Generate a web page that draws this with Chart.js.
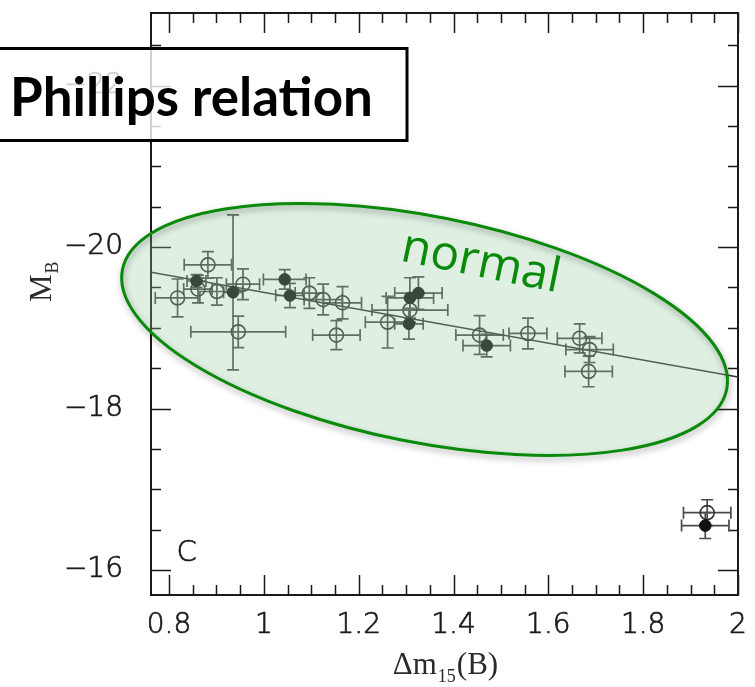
<!DOCTYPE html>
<html>
<head>
<meta charset="utf-8">
<title>Phillips relation</title>
<script src="https://cdn.jsdelivr.net/npm/chart.js@4.4.1/dist/chart.umd.min.js"></script>
<style>
  html, body { margin: 0; padding: 0; background: #fff; }
  #chart { display: block; }
</style>
</head>
<body>
<canvas id="chart" width="755" height="687"></canvas>
<script>
(function () {
  "use strict";

  // open symbols: decline rate dm15(B), peak magnitude M_B, errors
  var openX = [0.882, 0.818, 0.861, 0.901, 0.956, 0.946, 1.096, 1.125, 1.166, 1.153, 1.261, 1.308, 1.455, 1.557, 1.666, 1.687, 1.685, 1.935];
  var openY = [-19.78, -19.37, -19.48, -19.45, -19.54, -18.95, -19.43, -19.35, -19.31, -18.91, -19.07, -19.22, -18.91, -18.93, -18.87, -18.73, -18.46, -16.71];
  var openXErr = [0.05, 0.047, 0.03, 0.04, 0.035, 0.1, 0.03, 0.04, 0.04, 0.05, 0.047, 0.08, 0.05, 0.04, 0.047, 0.05, 0.05, 0.05];
  var openYErr = [0.165, 0.235, 0.17, 0.17, 0.19, 0.195, 0.19, 0.19, 0.2, 0.18, 0.32, 0.15, 0.24, 0.19, 0.18, 0.16, 0.19, 0.16];

  // filled symbols
  var filledX = [0.858, 0.935, 1.044, 1.055, 1.306, 1.308, 1.326, 1.47, 1.931];
  var filledY = [-19.58, -19.44, -19.6, -19.4, -19.05, -19.37, -19.43, -18.78, -16.55];
  var filledXErr = [0.02, 0.02, 0.045, 0.03, 0.03, 0.05, 0.05, 0.05, 0.05];
  var filledYErr = [0.08, 0.96, 0.12, 0.15, 0.19, 0.25, 0.2, 0.14, 0.16];

  // linear fit drawn across the panel
  var fitX = [0.762, 2.0];
  var fitY = [-19.69, -18.39];

  var xTicks = [0.8, 1, 1.2, 1.4, 1.6, 1.8, 2];
  var yTicks = [-22, -20, -18, -16];

  var INK = "#1a1a1a";
  var BAR = "#4a4a4a";
  var GREEN = "#0a8a0a";
  var TICK_FONT = { family: "'DejaVu Sans', sans-serif", size: 28, weight: "200" };
  var SERIF = "'Liberation Serif', 'DejaVu Serif', serif";

  function points(xs, ys) {
    return xs.map(function (x, i) { return { x: x, y: ys[i] }; });
  }

  function isMajor(v, list) {
    return list.some(function (t) { return Math.abs(t - v) < 1e-6; });
  }

  function noPadding(axis) {
    axis.paddingTop = 0;
    axis.paddingBottom = 0;
    axis.paddingLeft = 0;
    axis.paddingRight = 0;
  }

  function drawFrame(chart) {
    var ctx = chart.ctx, a = chart.chartArea;
    var xs = chart.scales.x, ys = chart.scales.y;
    var v, p, len;
    ctx.save();
    ctx.strokeStyle = INK;
    ctx.lineWidth = 1.5;
    ctx.beginPath();
    for (v = Math.ceil(xs.min / 0.05) * 0.05; v <= xs.max + 1e-6; v += 0.05) {
      p = Math.round(xs.getPixelForValue(v)) + 0.5;
      len = isMajor(v, xTicks) ? 20 : 10;
      ctx.moveTo(p, a.bottom); ctx.lineTo(p, a.bottom - len);
      ctx.moveTo(p, a.top); ctx.lineTo(p, a.top + len);
    }
    for (v = Math.ceil(ys.min / 0.5) * 0.5; v <= ys.max + 1e-6; v += 0.5) {
      p = Math.round(ys.getPixelForValue(v)) + 0.5;
      len = isMajor(v, yTicks) ? 20 : 10;
      ctx.moveTo(a.left, p); ctx.lineTo(a.left + len, p);
      ctx.moveTo(a.right, p); ctx.lineTo(a.right - len, p);
    }
    ctx.stroke();
    ctx.lineWidth = 2;
    ctx.strokeRect(a.left, a.top, a.right - a.left, a.bottom - a.top);
    ctx.restore();
  }

  function drawErrorBars(chart, xArr, yArr, exArr, eyArr) {
    var ctx = chart.ctx, xs = chart.scales.x, ys = chart.scales.y;
    var cap = 6;
    ctx.save();
    ctx.strokeStyle = BAR;
    ctx.lineWidth = 1.7;
    ctx.beginPath();
    xArr.forEach(function (x, i) {
      var y = yArr[i];
      var px = xs.getPixelForValue(x), py = ys.getPixelForValue(y);
      var x0 = xs.getPixelForValue(x - exArr[i]), x1 = xs.getPixelForValue(x + exArr[i]);
      var y0 = ys.getPixelForValue(y - eyArr[i]), y1 = ys.getPixelForValue(y + eyArr[i]);
      ctx.moveTo(x0, py); ctx.lineTo(x1, py);
      ctx.moveTo(x0, py - cap); ctx.lineTo(x0, py + cap);
      ctx.moveTo(x1, py - cap); ctx.lineTo(x1, py + cap);
      ctx.moveTo(px, y0); ctx.lineTo(px, y1);
      ctx.moveTo(px - cap, y0); ctx.lineTo(px + cap, y0);
      ctx.moveTo(px - cap, y1); ctx.lineTo(px + cap, y1);
    });
    ctx.stroke();
    ctx.restore();
  }

  var backdrop = {
    id: "backdrop",
    beforeDatasetsDraw: function (chart) {
      drawFrame(chart);
      drawErrorBars(chart, openX, openY, openXErr, openYErr);
      drawErrorBars(chart, filledX, filledY, filledXErr, filledYErr);
    }
  };

  // green "normal" ellipse over the data, centre in data units
  var ellipse = {
    id: "ellipse",
    afterDatasetsDraw: function (chart) {
      var ctx = chart.ctx;
      var cx = chart.scales.x.getPixelForValue(1.339);
      var cy = chart.scales.y.getPixelForValue(-18.98);
      ctx.save();
      ctx.beginPath();
      ctx.ellipse(cx, cy, 308, 113, 11.2 * Math.PI / 180, 0, Math.PI * 2);
      ctx.fillStyle = "rgba(150, 205, 160, 0.3)";
      ctx.fill();
      ctx.shadowColor = "rgba(0, 0, 0, 0.35)";
      ctx.shadowBlur = 6;
      ctx.shadowOffsetX = 1;
      ctx.shadowOffsetY = 3;
      ctx.strokeStyle = GREEN;
      ctx.lineWidth = 3;
      ctx.stroke();
      ctx.restore();
    }
  };

  function strokedText(ctx, text, x, y) {
    ctx.fillText(text, x, y);
    ctx.strokeText(text, x, y);
  }

  var labels = {
    id: "labels",
    afterDraw: function (chart) {
      var ctx = chart.ctx, xs = chart.scales.x, ys = chart.scales.y;
      var w;
      ctx.save();

      // "normal"
      ctx.save();
      ctx.translate(xs.getPixelForValue(1.452), ys.getPixelForValue(-19.636));
      ctx.rotate(11.5 * Math.PI / 180);
      ctx.fillStyle = GREEN;
      ctx.font = "48px 'Open Sans', sans-serif";
      ctx.textAlign = "center";
      ctx.textBaseline = "alphabetic";
      ctx.fillText("normal", 0, 0);
      ctx.restore();

      // panel letter
      ctx.fillStyle = INK;
      ctx.strokeStyle = INK;
      ctx.lineWidth = 0.7;
      ctx.font = TICK_FONT.weight + " 29px " + TICK_FONT.family;
      ctx.textAlign = "center";
      ctx.textBaseline = "middle";
      strokedText(ctx, "C", xs.getPixelForValue(0.837), ys.getPixelForValue(-16.21));

      // x title with subscript
      ctx.textBaseline = "alphabetic";
      ctx.textAlign = "left";
      ctx.fillStyle = "#2a2a2a";
      var big = "31px " + SERIF;
      var small = "18px " + SERIF;
      ctx.font = big;
      var w1 = ctx.measureText("\u0394m").width;
      var w3 = ctx.measureText("(B)").width;
      ctx.font = small;
      var w2 = ctx.measureText("15").width;
      var x0 = (chart.chartArea.left + chart.chartArea.right) / 2 - (w1 + w2 + w3) / 2;
      var base = 674;
      ctx.font = big;
      ctx.fillText("\u0394m", x0, base);
      ctx.font = small;
      ctx.fillText("15", x0 + w1 + 1, base + 8);
      ctx.font = big;
      ctx.fillText("(B)", x0 + w1 + w2 + 2, base);

      // y title M_B
      ctx.save();
      ctx.translate(51, 302);
      ctx.rotate(-Math.PI / 2);
      ctx.font = big;
      ctx.fillText("M", 0, 0);
      w = ctx.measureText("M").width;
      ctx.font = small;
      ctx.fillText("B", w + 1, 7);
      ctx.restore();

      // title box
      ctx.fillStyle = "rgba(255, 255, 255, 0.8)";
      ctx.fillRect(0, 48, 407, 93);
      ctx.strokeStyle = "#000";
      ctx.lineWidth = 3;
      ctx.strokeRect(-2, 48.5, 409, 92);
      ctx.fillStyle = "#000";
      ctx.font = "bold 50px Lato, sans-serif";
      var tw = ctx.measureText("Phillips relation").width;
      var size = 50 * 363 / tw;
      ctx.font = "bold " + size.toFixed(1) + "px Lato, sans-serif";
      ctx.textAlign = "left";
      ctx.textBaseline = "alphabetic";
      ctx.fillText("Phillips relation", 10, 116);
      ctx.restore();
    }
  };

  new Chart(document.getElementById("chart"), {
    type: "scatter",
    data: {
      datasets: [
        {
          label: "fit",
          data: points(fitX, fitY),
          showLine: true,
          pointRadius: 0,
          borderColor: "#333",
          borderWidth: 1.5,
          order: 3
        },
        {
          label: "open",
          data: points(openX, openY),
          pointRadius: 7,
          pointBorderWidth: 1.6,
          pointBackgroundColor: "rgba(0,0,0,0)",
          pointBorderColor: "#333",
          order: 2
        },
        {
          label: "filled",
          data: points(filledX, filledY),
          pointRadius: 5.8,
          pointBorderWidth: 1,
          pointBackgroundColor: "#111",
          pointBorderColor: "#111",
          order: 1
        }
      ]
    },
    options: {
      responsive: false,
      animation: false,
      events: [],
      layout: { padding: { top: 13, right: 17, left: 0, bottom: 0 } },
      plugins: { legend: { display: false }, tooltip: { enabled: false } },
      scales: {
        x: {
          type: "linear",
          min: 0.762,
          max: 2.0,
          grid: { display: false },
          border: { display: false },
          ticks: {
            color: INK,
            font: TICK_FONT,
            textStrokeColor: INK,
            textStrokeWidth: 0.7,
            padding: 6,
            autoSkip: false,
            maxRotation: 0,
            callback: function (v) { return String(v); }
          },
          afterBuildTicks: function (axis) {
            axis.ticks = xTicks.map(function (v) { return { value: v }; });
          },
          afterFit: function (axis) { axis.height = 92; noPadding(axis); }
        },
        y: {
          type: "linear",
          reverse: true,
          min: -22.9,
          max: -15.69,
          grid: { display: false },
          border: { display: false },
          ticks: {
            color: INK,
            font: TICK_FONT,
            textStrokeColor: INK,
            textStrokeWidth: 0.7,
            padding: 20,
            autoSkip: false,
            callback: function (v) { return "\u2212" + Math.abs(v); }
          },
          afterBuildTicks: function (axis) {
            axis.ticks = yTicks.map(function (v) { return { value: v }; });
          },
          afterFit: function (axis) { axis.width = 151; noPadding(axis); }
        }
      }
    },
    plugins: [backdrop, ellipse, labels]
  });
})();
</script>
</body>
</html>
